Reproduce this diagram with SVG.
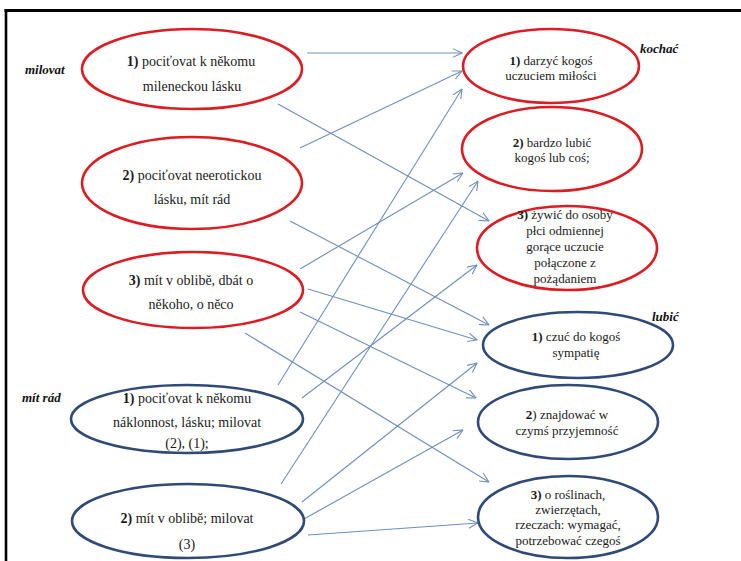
<svg xmlns="http://www.w3.org/2000/svg" width="741" height="561" viewBox="0 0 741 561" font-family="Liberation Serif, Times New Roman, DejaVu Serif, serif">
<style>
.red{fill:#fff;stroke:#dc1c22;stroke-width:2.6}
.blue{fill:#fff;stroke:#2f4a77;stroke-width:2.6}
.t{font-size:14px;fill:#1a1a1a;text-anchor:middle}
.s{font-size:13px;fill:#1a1a1a;text-anchor:middle}
.b{font-weight:bold}
.lab{font-size:13px;font-weight:bold;font-style:italic;fill:#111}
.c{stroke:#6f8fbd;stroke-width:1.1;fill:none;marker-end:url(#arr)}
</style>
<defs>
<marker id="arr" viewBox="0 0 10 10" refX="9.5" refY="5" markerWidth="10" markerHeight="10" markerUnits="userSpaceOnUse" orient="auto">
<path d="M0,0.5 L9.5,5 L0,9.5" fill="none" stroke="#6f8fbd" stroke-width="1.1"/>
</marker>
</defs>
<rect width="741" height="561" fill="#fff"/>
<g id="frame">
<line x1="4.5" y1="10.5" x2="741" y2="10.5" stroke="#000" stroke-width="3"/>
<line x1="6" y1="9" x2="6" y2="561" stroke="#000" stroke-width="2.6"/>
</g>
<g id="labels">
<text class="lab" x="25" y="74">milovat</text>
<text class="lab" x="22" y="402">mít rád</text>
<text class="lab" x="640" y="53">kochać</text>
<text class="lab" x="652" y="321">lubić</text>
</g>
<g id="connectors">
<line class="c" x1="307" y1="53" x2="462" y2="53"/>
<line class="c" x1="300" y1="148" x2="462" y2="71"/>
<line class="c" x1="278" y1="385" x2="462" y2="89"/>
<line class="c" x1="300" y1="269" x2="463" y2="173"/>
<line class="c" x1="281" y1="484" x2="478" y2="181"/>
<line class="c" x1="278" y1="104" x2="489" y2="221"/>
<line class="c" x1="302" y1="398" x2="477" y2="265"/>
<line class="c" x1="290" y1="221" x2="489" y2="325"/>
<line class="c" x1="308" y1="289" x2="477" y2="340"/>
<line class="c" x1="300" y1="312" x2="476" y2="398"/>
<line class="c" x1="245" y1="333" x2="489" y2="482"/>
<line class="c" x1="302" y1="502" x2="477" y2="363"/>
<line class="c" x1="304" y1="519" x2="463" y2="430"/>
<line class="c" x1="308" y1="535" x2="478" y2="523"/>
</g>
<g id="milovat-1">
<ellipse class="red" cx="192" cy="69" rx="110" ry="40"/>
<text class="t" x="191" y="66"><tspan class="b">1)</tspan> pociťovat  k  někomu</text>
<text class="t" x="192" y="91">mileneckou  lásku</text>
</g>
<g id="milovat-2">
<ellipse class="red" cx="192" cy="183" rx="110" ry="46"/>
<text class="t" x="192" y="180"><tspan class="b">2)</tspan> pociťovat  neerotickou</text>
<text class="t" x="192" y="204">lásku,  mít  rád</text>
</g>
<g id="milovat-3">
<ellipse class="red" cx="193" cy="290" rx="110" ry="38"/>
<text class="t" x="191" y="285"><tspan class="b">3)</tspan> mít v oblibě,  dbát  o</text>
<text class="t" x="191" y="309">někoho,  o něco</text>
</g>
<g id="mitrad-1">
<ellipse class="blue" cx="187" cy="419" rx="116" ry="34"/>
<text class="t" x="187" y="403"><tspan class="b">1)</tspan> pociťovat  k  někomu</text>
<text class="t" x="187" y="427">náklonnost,  lásku;  milovat</text>
<text class="t" x="187" y="448">(2), (1);</text>
</g>
<g id="mitrad-2">
<ellipse class="blue" cx="188" cy="521" rx="116" ry="37"/>
<text class="t" x="187" y="523"><tspan class="b">2)</tspan> mít v oblibě;  milovat</text>
<text class="t" x="187" y="549">(3)</text>
</g>
<g id="kochac-1">
<ellipse class="red" cx="551" cy="66" rx="88" ry="37"/>
<text class="s" x="551" y="65"><tspan class="b">1)</tspan> darzyć  kogoś</text>
<text class="s" x="551" y="80">uczuciem  miłości</text>
</g>
<g id="kochac-2">
<ellipse class="red" cx="552" cy="149" rx="90" ry="42"/>
<text class="s" x="552" y="147"><tspan class="b">2)</tspan> bardzo  lubić</text>
<text class="s" x="552" y="162">kogoś  lub  coś;</text>
</g>
<g id="kochac-3">
<ellipse class="red" cx="567" cy="248" rx="90" ry="42"/>
<text class="s" x="565" y="219"><tspan class="b">3)</tspan> żywić  do osoby</text>
<text class="s" x="565" y="235">płci odmiennej</text>
<text class="s" x="565" y="251">gorące uczucie</text>
<text class="s" x="565" y="267">połączone z</text>
<text class="s" x="565" y="283">pożądaniem</text>
</g>
<g id="lubic-1">
<ellipse class="blue" cx="578" cy="345" rx="95" ry="33"/>
<text class="s" x="576" y="341"><tspan class="b">1)</tspan> czuć  do kogoś</text>
<text class="s" x="576" y="357">sympatię</text>
</g>
<g id="lubic-2">
<ellipse class="blue" cx="568" cy="422" rx="90" ry="37"/>
<text class="s" x="567" y="419"><tspan class="b">2</tspan>) znajdować  w</text>
<text class="s" x="567" y="435">czymś  przyjemność</text>
</g>
<g id="lubic-3">
<ellipse class="blue" cx="568" cy="517" rx="90" ry="41"/>
<text class="s" x="568" y="499"><tspan class="b">3)</tspan> o roślinach,</text>
<text class="s" x="568" y="514">zwierzętach,</text>
<text class="s" x="568" y="529">rzeczach:  wymagać,</text>
<text class="s" x="568" y="545">potrzebować  czegoś</text>
</g>
</svg>
